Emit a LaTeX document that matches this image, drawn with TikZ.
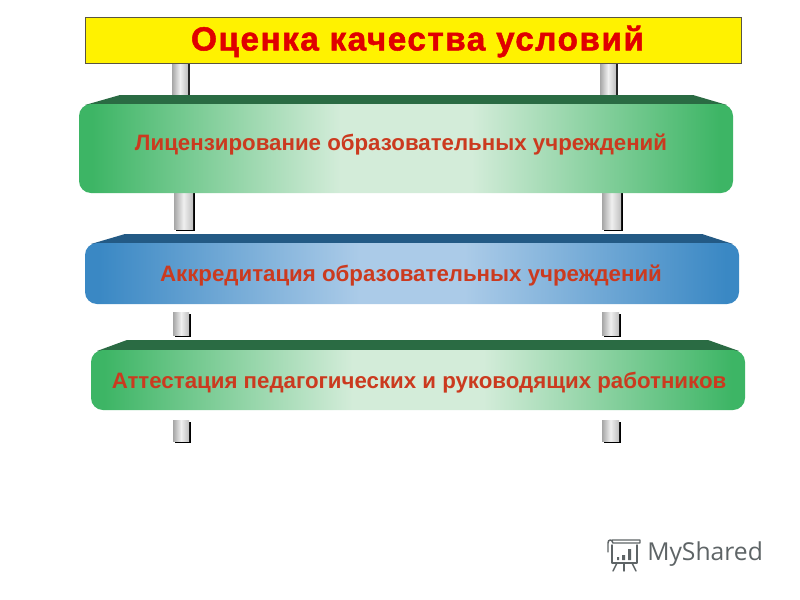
\documentclass[tikz,border=0pt]{standalone}
\usepackage{fontspec}
\setmainfont{Liberation Sans}
\newfontfamily\logofont{Open Sans}
\newfontfamily\titlefont[FakeBold=1.5,LetterSpace=4.5]{Liberation Sans Bold}
\definecolor{gedge}{HTML}{3DB565}
\definecolor{gmid}{HTML}{D3ECD9}
\definecolor{gtop}{HTML}{2A6B43}
\definecolor{bedge}{HTML}{3A88C4}
\definecolor{bmid}{HTML}{ABCBE8}
\definecolor{btop}{HTML}{235A85}
\definecolor{txtred}{HTML}{CB3A1F}
\definecolor{logogray}{HTML}{5E6466}
\pgfdeclarehorizontalshading{greenpanel}{100bp}{color(0bp)=(gedge); color(26bp)=(gedge); color(45bp)=(gmid); color(55bp)=(gmid); color(74bp)=(gedge); color(100bp)=(gedge)}
\pgfdeclarehorizontalshading{bluepanel}{100bp}{color(0bp)=(bedge); color(26bp)=(bedge); color(46bp)=(bmid); color(54bp)=(bmid); color(74bp)=(bedge); color(100bp)=(bedge)}
\tikzset{
 x=0.75pt,y=-0.75pt,
 paneltext/.style={font=\bfseries\fontsize{16.7pt}{19pt}\selectfont,text=txtred,inner sep=0pt},
 titlebox/.style={draw=black!75!yellow,line width=0.6pt,fill=yellow},
 pillarfill/.style={left color=black!35,right color=black!25,middle color=black!6},
 shadowthin/.style={line width=1.5pt,black!85},
 shadowline/.style={line width=2pt,black},
}
\tikzset{logoline/.style={draw=logogray,line width=1.1pt,line cap=round,line join=round}}
\newcommand{\pillar}[4]{% x1,y1,x2,y2
 \draw[shadowline] (#3+1,#2+2) -- (#3+1,#4+1) -- (#1+2,#4+1);
 \shade[pillarfill] (#1,#2) rectangle (#3,#4);
}
\newcommand{\panel}[9]{% x1,ytop,yfront,x2,ybot,xtl,xtr,topcol,shading
 \fill[#8] (#1+6,#3+1) -- (#6,#2) -- (#7,#2) -- (#4-6,#3+1) -- cycle;
 \shade[shading=#9,rounded corners=9pt] (#1,#3) rectangle (#4,#5);
}
\begin{document}
\begin{tikzpicture}
\useasboundingbox (0,0) rectangle (800,600);
\fill[white] (0,0) rectangle (800,600);
% pillars
\shade[pillarfill] (172,60) rectangle (188,97);
\draw[shadowthin] (189,62) -- (189,96);
\shade[pillarfill] (600,60) rectangle (616,97);
\draw[shadowthin] (617,62) -- (617,96);
\pillar{174}{190}{193}{229}
\pillar{602}{190}{621}{229}
\pillar{173}{312}{189}{335}
\pillar{602}{312}{619}{335}
\pillar{173}{420}{189}{441}
\pillar{602}{420}{619}{441}
% title
\node[titlebox,minimum width=492pt,minimum height=34.5pt,inner sep=0pt,anchor=north west] (title) at (85,17) {};
\node[font=\titlefont\fontsize{25pt}{28pt}\selectfont,text=red!88!black,inner sep=0pt] (titletext) at (417.5,41.5) {Оценка качества условий};
% panels
\panel{79}{95}{104}{733}{193}{120}{693}{gtop}{greenpanel}
\panel{85}{234}{243}{739}{304}{125}{702}{btop}{bluepanel}
\panel{91}{340}{350}{745}{410}{127}{708}{gtop}{greenpanel}
\node[paneltext] (p1) at (401,145) {Лицензирование образовательных учреждений};
\node[paneltext] (p2) at (411,276) {Аккредитация образовательных учреждений};
\node[paneltext] (p3) at (419,383) {Аттестация педагогических и руководящих работников};
% logo
\draw[logoline] (612,545) -- (612,563) -- (637,563) -- (637,545);
\draw[logoline] (608,552) -- (608,543) .. controls (608,539) and (612,539) .. (613,543) -- (640,543) -- (640,540) -- (612,540);
\draw[logoline] (617,563) -- (613,571);
\draw[logoline] (624,563) -- (624,571);
\draw[logoline] (632,563) -- (636,571);
\fill[logogray] (617,557) rectangle (619,560) (622,555) rectangle (625,560) (628,549) rectangle (631,560);
\node[font=\logofont\fontsize{18.5pt}{22pt}\selectfont,text=logogray,inner sep=0pt,anchor=west] (logo) at (647,554) {MyShared};
\end{tikzpicture}
\end{document}
